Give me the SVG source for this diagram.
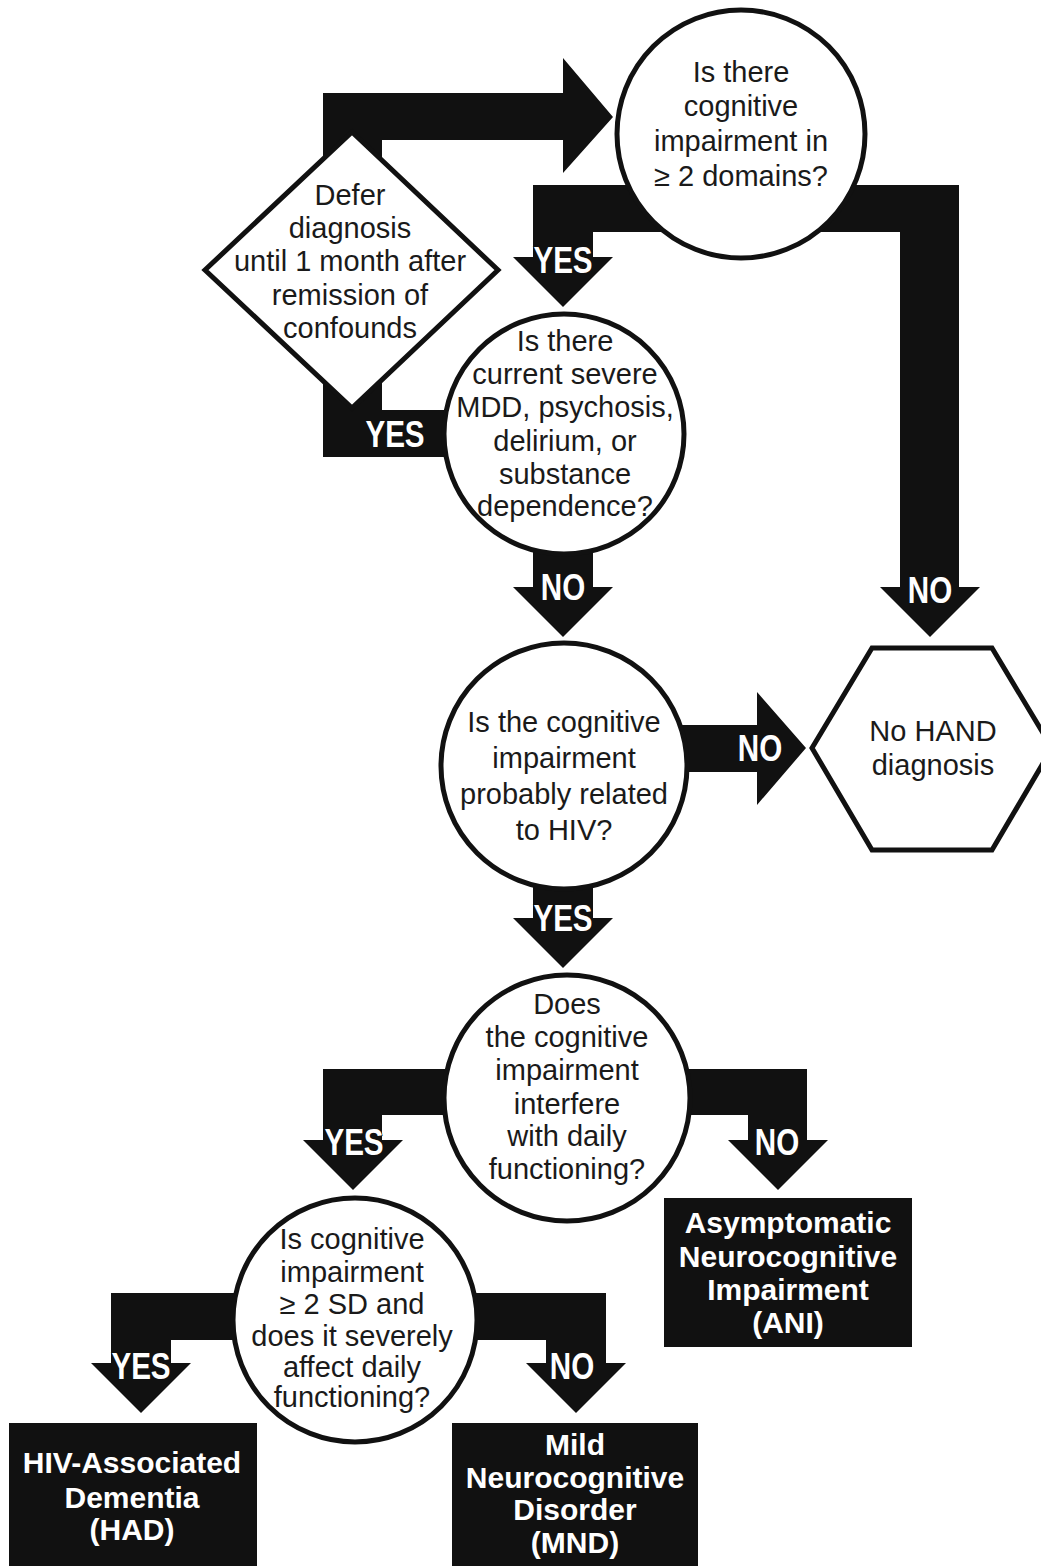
<svg xmlns="http://www.w3.org/2000/svg" width="1041" height="1566" viewBox="0 0 1041 1566">
<style>
.shape{fill:#fff;stroke:#111;stroke-width:5}
.q{font-family:"Liberation Sans",Arial,sans-serif;font-size:29px;fill:#1a1a1a;text-anchor:middle}
.box{fill:#111}
.bt{font-family:"Liberation Sans",Arial,sans-serif;font-weight:bold;font-size:30px;fill:#fff;text-anchor:middle}
.conn{fill:#111}
.lbl{font-family:"Liberation Sans",Arial,sans-serif;font-weight:bold;font-size:37px;fill:#fff;stroke:#111;stroke-width:1.5;paint-order:stroke;text-anchor:middle}
</style>
<rect width="1041" height="1566" fill="#fff"/>
<g id="connectors">
<path class="conn" d="M323,93 H563 V58 L613,117 L563,173 V140 H382 V410 H470 V457 H323 Z"/>
<path class="conn" d="M690,185 H533 V257 H513 L563,307 L613,257 H593 V232 H690 Z"/>
<path class="conn" d="M790,185 H959 V587 H980 L930,637 L880,587 H900 V232 H790 Z"/>
<path class="conn" d="M533,520 H593 V587 H613 L563,637 L513,587 H533 Z"/>
<path class="conn" d="M660,725 H757 V692 L806,748 L757,805 V772 H660 Z"/>
<path class="conn" d="M533,860 H593 V918 H613 L563,968 L513,918 H533 Z"/>
<path class="conn" d="M480,1069 H323 V1140 H303 L353,1190 L403,1140 H382 V1115 H480 Z"/>
<path class="conn" d="M660,1069 H807 V1140 H828 L778,1190 L728,1140 H748 V1115 H660 Z"/>
<path class="conn" d="M260,1293 H111 V1363 H91 L141,1413 L191,1363 H171 V1340 H260 Z"/>
<path class="conn" d="M450,1293 H606 V1363 H626 L576,1413 L526,1363 H546 V1340 H450 Z"/>
<text class="lbl" transform="translate(395,447) scale(0.8,1)">YES</text>
<text class="lbl" transform="translate(563,273) scale(0.8,1)">YES</text>
<text class="lbl" transform="translate(930,603) scale(0.8,1)">NO</text>
<text class="lbl" transform="translate(563,600) scale(0.8,1)">NO</text>
<text class="lbl" transform="translate(760,761) scale(0.8,1)">NO</text>
<text class="lbl" transform="translate(563,931) scale(0.8,1)">YES</text>
<text class="lbl" transform="translate(354,1155) scale(0.8,1)">YES</text>
<text class="lbl" transform="translate(777,1155) scale(0.8,1)">NO</text>
<text class="lbl" transform="translate(141,1379) scale(0.8,1)">YES</text>
<text class="lbl" transform="translate(572,1379) scale(0.8,1)">NO</text>
</g>
<g id="q-domains">
<circle class="shape" cx="741" cy="134" r="124"/>
<text class="q" x="741" y="82">Is there</text>
<text class="q" x="741" y="116">cognitive</text>
<text class="q" x="741" y="151">impairment in</text>
<text class="q" x="741" y="186">≥ 2 domains?</text>
</g>
<g id="defer">
<polygon class="shape" points="352,132 498,270 352,408 205,270" stroke-width="6"/>
<text class="q" x="350" y="205">Defer</text>
<text class="q" x="350" y="238">diagnosis</text>
<text class="q" x="350" y="271">until 1 month after</text>
<text class="q" x="350" y="305">remission of</text>
<text class="q" x="350" y="338">confounds</text>
</g>
<g id="q-confounds">
<circle class="shape" cx="564" cy="434" r="120"/>
<text class="q" x="565" y="351">Is there</text>
<text class="q" x="565" y="384">current severe</text>
<text class="q" x="565" y="417">MDD, psychosis,</text>
<text class="q" x="565" y="451">delirium, or</text>
<text class="q" x="565" y="484">substance</text>
<text class="q" x="565" y="516">dependence?</text>
</g>
<g id="q-hiv">
<circle class="shape" cx="564" cy="766" r="123"/>
<text class="q" x="564" y="732">Is the cognitive</text>
<text class="q" x="564" y="768">impairment</text>
<text class="q" x="564" y="804">probably related</text>
<text class="q" x="564" y="840">to HIV?</text>
</g>
<g id="no-hand">
<polygon class="shape" points="812,748 872,648 992,648 1052,748 992,850 872,850" stroke-width="6"/>
<text class="q" x="933" y="741">No HAND</text>
<text class="q" x="933" y="775">diagnosis</text>
</g>
<g id="q-daily">
<circle class="shape" cx="567" cy="1098" r="123"/>
<text class="q" x="567" y="1014">Does</text>
<text class="q" x="567" y="1047">the cognitive</text>
<text class="q" x="567" y="1080">impairment</text>
<text class="q" x="567" y="1114">interfere</text>
<text class="q" x="567" y="1146">with daily</text>
<text class="q" x="567" y="1179">functioning?</text>
</g>
<g id="q-severe">
<circle class="shape" cx="355" cy="1320" r="122"/>
<text class="q" x="352" y="1249">Is cognitive</text>
<text class="q" x="352" y="1282">impairment</text>
<text class="q" x="352" y="1314">≥ 2 SD and</text>
<text class="q" x="352" y="1346">does it severely</text>
<text class="q" x="352" y="1377">affect daily</text>
<text class="q" x="352" y="1407">functioning?</text>
</g>
<g id="ani">
<rect class="box" x="664" y="1198" width="248" height="149"/>
<text class="bt" x="788" y="1233">Asymptomatic</text>
<text class="bt" x="788" y="1267">Neurocognitive</text>
<text class="bt" x="788" y="1300">Impairment</text>
<text class="bt" x="788" y="1333">(ANI)</text>
</g>
<g id="had">
<rect class="box" x="9" y="1423" width="248" height="143"/>
<text class="bt" x="132" y="1473">HIV-Associated</text>
<text class="bt" x="132" y="1508">Dementia</text>
<text class="bt" x="132" y="1540">(HAD)</text>
</g>
<g id="mnd">
<rect class="box" x="452" y="1423" width="246" height="143"/>
<text class="bt" x="575" y="1455">Mild</text>
<text class="bt" x="575" y="1488">Neurocognitive</text>
<text class="bt" x="575" y="1520">Disorder</text>
<text class="bt" x="575" y="1553">(MND)</text>
</g>
</svg>
